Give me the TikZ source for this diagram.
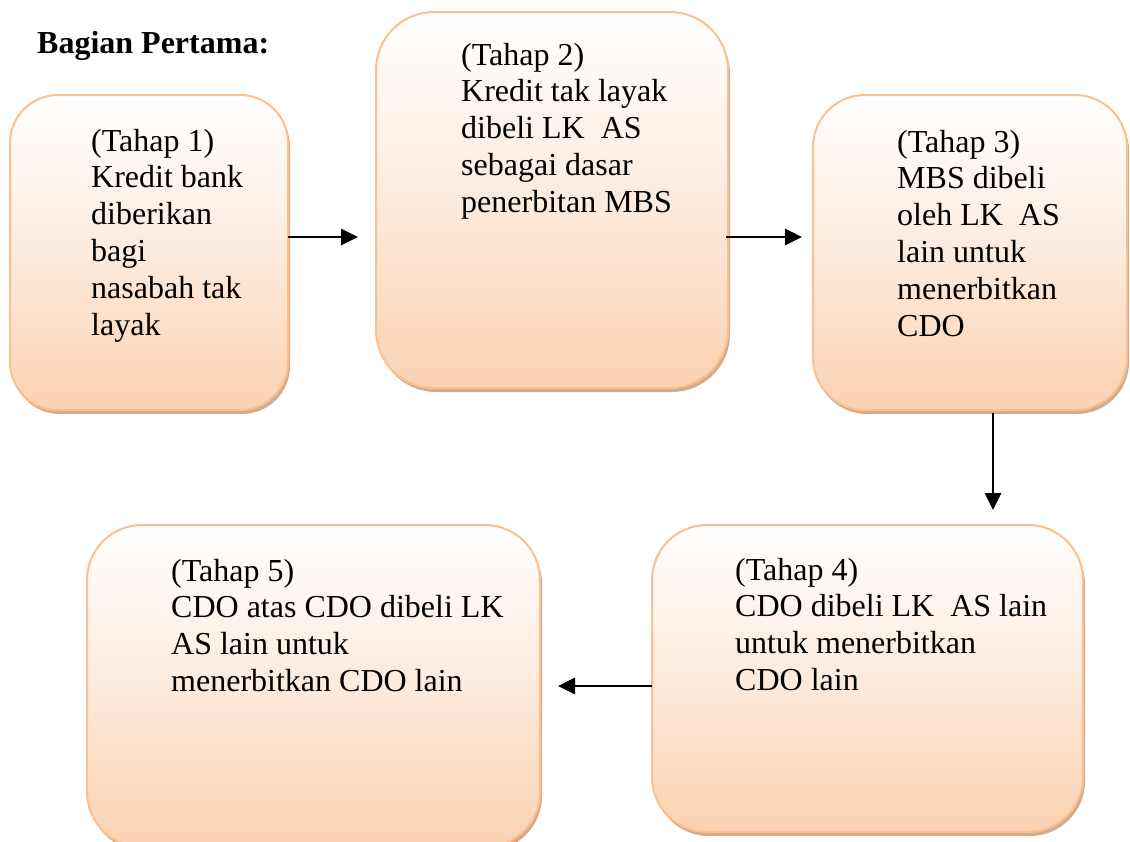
\documentclass[tikz,border=0pt]{standalone}
\usepackage{fontspec}
\setmainfont{Liberation Serif}
\usetikzlibrary{shadows,arrows.meta}
\definecolor{boxborder}{RGB}{250,192,143}
\definecolor{boxbottom}{RGB}{251,210,178}
\definecolor{boxshadow}{RGB}{200,150,112}
\tikzset{
  stagebox/.style={draw=boxborder, line width=2pt, top color=white, bottom color=boxbottom,
    middle color={boxbottom!45!white}, anchor=north west, outer sep=0pt, inner sep=0pt,
    drop shadow={shadow xshift=2pt, shadow yshift=-4pt, fill=boxshadow, opacity=0.8}},
  stagetext/.style={anchor=base west, inner sep=0pt, font=\fontsize{32}{36.8}\selectfont},
  arr/.style={line width=2.8pt, -{Triangle[length=17pt,width=16pt]}}
}
\begin{document}
\begin{tikzpicture}[x=1pt,y=-1pt]
\useasboundingbox (0,0) rectangle (1130,841);
\node[anchor=base west, inner sep=0pt, font=\bfseries\fontsize{32}{36}\selectfont] (title) at (37,53) {Bagian Pertama:};
% boxes
\node[stagebox, minimum width=278pt, minimum height=315pt, rounded corners=48pt] (b1) at (10,95) {};
\node[stagebox, minimum width=352pt, minimum height=376pt, rounded corners=58pt] (b2) at (376,12) {};
\node[stagebox, minimum width=314pt, minimum height=315pt, rounded corners=52pt] (b3) at (813,95) {};
\node[stagebox, minimum width=431pt, minimum height=307pt, rounded corners=55pt] (b4) at (652,525) {};
\node[stagebox, minimum width=453pt, minimum height=322pt, rounded corners=55pt] (b5) at (87,525) {};
% texts
\node[stagetext] (t1) at (91,151) {\begin{tabular}[t]{@{}l@{}}(Tahap 1)\\Kredit bank\\diberikan\\bagi\\nasabah tak\\layak\end{tabular}};
\node[stagetext] (t2) at (461,65) {\begin{tabular}[t]{@{}l@{}}(Tahap 2)\\Kredit tak layak\\dibeli LK\ \ AS\\sebagai dasar\\penerbitan MBS\end{tabular}};
\node[stagetext] (t3) at (897,152) {\begin{tabular}[t]{@{}l@{}}(Tahap 3)\\MBS dibeli\\oleh LK\ \ AS\\lain untuk\\menerbitkan\\CDO\end{tabular}};
\node[stagetext] (t4) at (735,580) {\begin{tabular}[t]{@{}l@{}}(Tahap 4)\\CDO dibeli LK\ \ AS lain\\untuk menerbitkan\\CDO lain\end{tabular}};
\node[stagetext] (t5) at (171,581) {\begin{tabular}[t]{@{}l@{}}(Tahap 5)\\CDO atas CDO dibeli LK\\AS lain untuk\\menerbitkan CDO lain\end{tabular}};
% connectors
\coordinate (h1) at (0,237);
\coordinate (v1) at (993,0);
\coordinate (h2) at (0,686);
\draw[arr, shorten >=18pt] (b1.east |- h1) -- (b2.west |- h1);
\draw[arr, shorten <=-2pt, shorten >=11pt] (b2.east |- h1) -- (b3.west |- h1);
\draw[arr, shorten <=3pt, shorten >=15pt] (b3.south -| v1) -- (b4.north -| v1);
\draw[arr, shorten >=18pt] (b4.west |- h2) -- (b5.east |- h2);
\end{tikzpicture}
\end{document}
